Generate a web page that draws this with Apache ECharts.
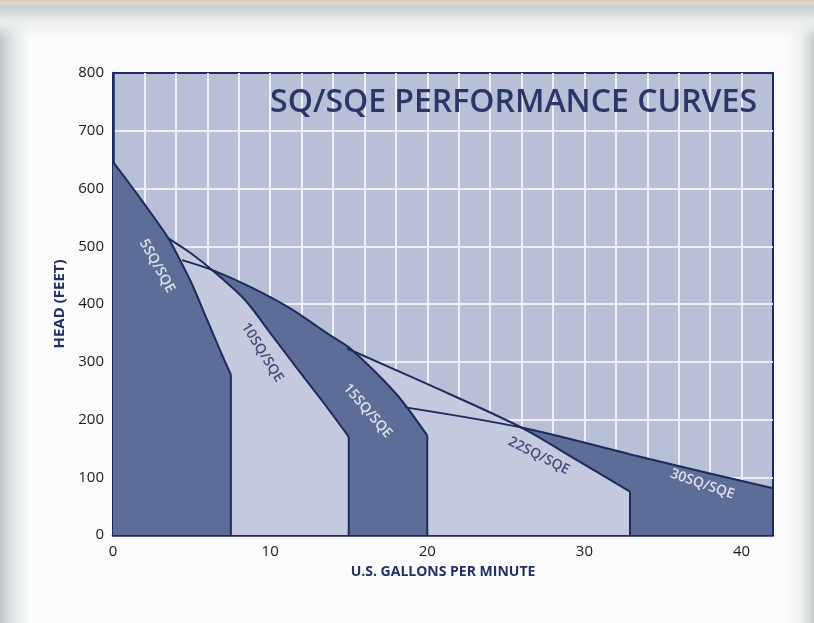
<!DOCTYPE html>
<html>
<head>
<meta charset="utf-8">
<script src="https://cdn.jsdelivr.net/npm/echarts@6/dist/echarts.min.js"></script>
<style>
  html, body { margin: 0; padding: 0; }
  body {
    width: 814px; height: 623px; overflow: hidden;
    background:
      linear-gradient(to bottom, #d9cdb6 0px, #e6dccb 4px, #c9cfcf 6px, #eef0ef 22px, rgba(255,255,255,0) 40px),
      linear-gradient(to right, #bfc6c8 0px, #e3e7e8 14px, rgba(255,255,255,0) 30px),
      linear-gradient(to left, #c7cdcf 0px, #eef0f0 12px, rgba(255,255,255,0) 26px),
      #fbfbfb;
  }
  #chart { width: 814px; height: 623px; }
</style>
</head>
<body>
<div id="chart"></div>
<script>
// ---- data ----
const pumpNames = ['5SQ/SQE', '10SQ/SQE', '15SQ/SQE', '22SQ/SQE', '30SQ/SQE'];

// flow (US gpm) and head (feet) along each curve; each range drops to 0 at its last flow
const flow5  = [0, 1, 2, 3, 3.5, 4, 5, 6, 7, 7.5];
const head5  = [646, 610, 573, 535, 515, 490, 436, 372, 308, 278];

const flow10 = [3.5, 5, 6.3, 8.4, 10, 11.7, 13.4, 15];
const head10 = [514, 487, 459, 407, 350, 289, 229, 170];

const flow15 = [4.4, 6.3, 8.7, 11.3, 13.8, 15.1, 18, 20];
const head15 = [476, 459, 430, 392, 346, 323, 245, 172];

const flow22 = [14.9, 20.2, 26, 29.5, 32.9];
const head22 = [323, 259, 186, 130, 75];

const flow30 = [18.6, 26, 34.2, 42];
const head30 = [221, 186, 131, 81];

// curve label anchors (flow, head)
const labelFlow = [2.8, 9.5, 16.2, 27.1, 37.5];
const labelHead = [466, 316, 215, 137, 88];

const xTicks = [0, 10, 20, 30, 40];

// ---- styles ----
const NAVY = '#1d2a5c';
const DARK = '#5e6d98';
const LIGHT = '#c5cadf';
const PLOT_BG = '#b9bfd6';
const labelColors = ['#ffffff', NAVY, '#ffffff', NAVY, '#ffffff'];
const labelAngles = [-61, -58, -49, -27, -19];
const fills = [DARK, LIGHT, DARK, LIGHT, DARK];
const SMOOTH = 0.3;

const flows = [flow5, flow10, flow15, flow22, flow30];
const heads = [head5, head10, head15, head22, head30];
const pairs = (xs, ys) => xs.map((x, i) => [x, ys[i]]);

const series = [];
// fills: biggest pump at the bottom, smallest on top
for (let i = 4; i >= 0; i--) {
  series.push({
    type: 'line', name: pumpNames[i] + ' area',
    data: pairs(flows[i], heads[i]),
    smooth: SMOOTH, showSymbol: false, symbol: 'none', silent: true,
    lineStyle: { width: 0, opacity: 0 },
    areaStyle: { color: fills[i], opacity: 1, origin: 'start' },
    z: 2
  });
}
// outlines on top of all fills
for (let i = 4; i >= 0; i--) {
  series.push({
    type: 'line', name: pumpNames[i],
    data: pairs(flows[i], heads[i]),
    smooth: SMOOTH, showSymbol: false, symbol: 'none', silent: true,
    lineStyle: { width: 2, color: NAVY },
    z: 3
  });
  const xe = flows[i][flows[i].length - 1];
  const ye = heads[i][heads[i].length - 1];
  series.push({
    type: 'line', name: pumpNames[i] + ' end',
    data: [[xe, ye], [xe, 0]],
    showSymbol: false, symbol: 'none', silent: true,
    lineStyle: { width: 2, color: NAVY },
    z: 3
  });
}
// curve names
series.push({
  type: 'scatter', symbolSize: 0, silent: true, z: 5,
  data: pumpNames.map((n, i) => ({
    name: n, value: [labelFlow[i], labelHead[i]],
    label: {
      show: true, position: 'inside', formatter: '{b}',
      rotate: labelAngles[i], color: labelColors[i],
      fontFamily: 'Open Sans', fontWeight: 600, fontSize: 14
    }
  }))
});

const chart = echarts.init(document.getElementById('chart'), null, { renderer: 'canvas' });
chart.setOption({
  backgroundColor: 'transparent',
  animation: false,
  title: {
    text: 'SQ/SQE PERFORMANCE CURVES',
    right: 57, top: 87, padding: 0,
    textStyle: { fontFamily: 'Open Sans', fontWeight: 600, fontSize: 32, color: '#2a3568' }
  },
  grid: {
    left: 113, right: 41, top: 73, bottom: 88,
    show: true, backgroundColor: PLOT_BG, borderColor: NAVY, borderWidth: 2
  },
  xAxis: {
    type: 'value', min: 0, max: 42, interval: 2,
    name: 'U.S. GALLONS PER MINUTE', nameLocation: 'middle', nameGap: 30,
    nameTextStyle: { fontFamily: 'Open Sans', fontWeight: 700, fontSize: 14, color: '#233066' },
    axisLine: { show: true, lineStyle: { color: NAVY, width: 2.5 } },
    axisTick: { show: false },
    axisLabel: {
      margin: 9, fontFamily: 'Open Sans', fontSize: 15, color: '#1a1a1a',
      formatter: v => (xTicks.indexOf(v) >= 0 ? String(v) : '')
    },
    splitLine: { show: true, showMinLine: false, showMaxLine: false, lineStyle: { color: '#eef0f7', width: 2 } }
  },
  yAxis: {
    type: 'value', min: 0, max: 800, interval: 100,
    name: 'HEAD (FEET)', nameLocation: 'middle', nameGap: 43,
    nameTextStyle: { fontFamily: 'Open Sans', fontWeight: 700, fontSize: 15, color: '#233066' },
    axisLine: { show: true, lineStyle: { color: NAVY, width: 2.5 } },
    axisTick: { show: false },
    axisLabel: { margin: 9, fontFamily: 'Open Sans', fontSize: 15, color: '#1a1a1a' },
    splitLine: { show: true, showMinLine: false, showMaxLine: false, lineStyle: { color: '#eef0f7', width: 2 } }
  },
  series: series
});
</script>
</body>
</html>
